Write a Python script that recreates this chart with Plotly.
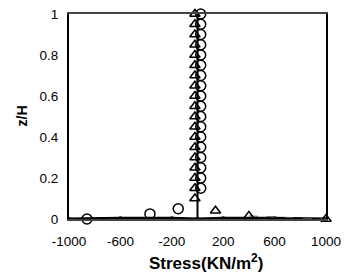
import plotly.graph_objects as go

# data
z_circ = [1.0, 0.95, 0.9, 0.85, 0.8, 0.75, 0.7, 0.65, 0.6, 0.55, 0.5, 0.45, 0.4, 0.35, 0.3, 0.25, 0.2, 0.15]
s_circ = [25] * len(z_circ)
z_circ_base = [0.05, 0.025, 0.0]
s_circ_base = [-150, -370, -860]

z_tri = [1.0, 0.95, 0.9, 0.85, 0.8, 0.75, 0.7, 0.65, 0.6, 0.55, 0.5, 0.45, 0.4, 0.35, 0.3, 0.25, 0.2, 0.15, 0.1]
s_tri = [-20] * len(z_tri)
z_tri_base = [0.04, 0.015, 0.0]
s_tri_base = [140, 400, 1000]

s_base = [-1000, -600, -200, 0, 200, 600, 1000]
z_base = [0.0, 0.004, 0.004, 0.0, 0.004, 0.004, 0.0]

s_vert = [0, 0]
z_vert = [0, 1]

x_ticks = [-1000, -600, -200, 200, 600, 1000]
x_labels = ["-1000", "-600", "-200", "200", "600", "1000"]
y_ticks = [0, 0.2, 0.4, 0.6, 0.8, 1]
y_labels = ["0", "0.2", "0.4", "0.6", "0.8", "1"]

fig = go.Figure()
fig.add_trace(go.Scatter(x=s_vert, y=z_vert, mode="lines",
                         line=dict(color="black", width=2), cliponaxis=False))
fig.add_trace(go.Scatter(x=s_base, y=z_base, mode="lines+markers",
                         line=dict(color="black", width=3),
                         marker=dict(color="black", size=4), cliponaxis=False))
fig.add_trace(go.Scatter(x=s_tri_base[1:], y=z_tri_base[1:], mode="lines",
                         line=dict(color="#555", width=1, dash="dash"), cliponaxis=False))
fig.add_trace(go.Scatter(x=s_circ + s_circ_base, y=z_circ + z_circ_base, mode="markers",
                         marker=dict(symbol="circle-open", size=10, color="black",
                                     line=dict(width=1.5)), cliponaxis=False))
fig.add_trace(go.Scatter(x=s_tri + s_tri_base, y=z_tri + z_tri_base, mode="markers",
                         marker=dict(symbol="triangle-up-open", size=9, color="black",
                                     line=dict(width=1.5)), cliponaxis=False))

plot_w = 346 - 69 - 20
plot_h = 277 - 14 - 58

fig.update_layout(
    width=346, height=277,
    margin=dict(l=69, r=20, t=14, b=58, autoexpand=False),
    paper_bgcolor="white", plot_bgcolor="white",
    showlegend=False,
    font=dict(family="Liberation Sans, Arial", color="black", size=13),
    annotations=[
        dict(text="<b>Stress(KN/m<sup>2</sup>)</b>", x=(206 - 69) / plot_w, xref="paper",
             y=(219 - 262) / plot_h, yref="paper",
             showarrow=False, font=dict(size=17), xanchor="center", yanchor="middle"),
        dict(text="<b>z/H</b>", x=(21 - 69) / plot_w, y=0.5, xref="paper", yref="paper",
             textangle=-90, showarrow=False, font=dict(size=14),
             xanchor="center", yanchor="middle"),
    ],
)

fig.update_xaxes(range=[-1000, 1000], tickvals=x_ticks, ticktext=x_labels, showgrid=False,
                 zeroline=False, showline=True, linecolor="#444", linewidth=1.5, mirror=True,
                 ticks="", tickfont=dict(size=13.5), ticklabelstandoff=9, automargin=False)
fig.update_yaxes(range=[0, 1], tickvals=y_ticks, ticktext=y_labels, showgrid=False,
                 zeroline=False, showline=True, linecolor="black", linewidth=2, mirror=True,
                 ticks="", tickfont=dict(size=13.5), ticklabelstandoff=6, automargin=False)
fig.write_html("out.html", config={"displayModeBar": False},
               post_script="document.body.style.margin='0';document.body.style.overflow='hidden';")
